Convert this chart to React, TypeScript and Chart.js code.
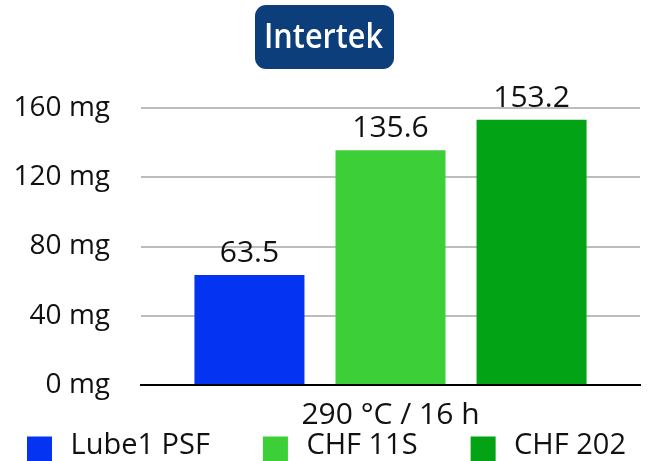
import React, { useEffect, useRef } from 'react';
import { Chart, registerables } from 'chart.js';

Chart.register(...registerables);

// ---- data ----
const categories = ['290 °C / 16 h'];
const seriesNames = ['Lube1 PSF', 'CHF 11S', 'CHF 202'];
const lube1PsfValues = [63.5];
const chf11sValues = [135.6];
const chf202Values = [153.2];
const yTickValues = [0, 40, 80, 120, 160];
const yUnit = 'mg';
const logoText = 'Intertek';

// ---- styles ----
const COLORS = ['#0533f2', '#3dcf37', '#02a314'];
const FONT = "'Open Sans', 'Noto Sans', sans-serif";
const TEXT = '#111111';
const LEGEND_FONT = 29;
const LEGEND_W = 82; // legend item box slot width
const SWATCH = 25;
const SWATCH_GAP = 19;

function makeSwatch(color: string): HTMLCanvasElement {
  const c = document.createElement('canvas');
  c.width = LEGEND_W;
  c.height = 32;
  const g = c.getContext('2d')!;
  g.fillStyle = color;
  const right = LEGEND_W + LEGEND_FONT / 2 - SWATCH_GAP;
  g.fillRect(Math.round(right - SWATCH), 7, SWATCH, SWATCH);
  return c;
}

const logoPlugin = {
  id: 'logo',
  beforeDraw(chart: any) {
    const { ctx } = chart;
    ctx.save();
    ctx.fillStyle = '#0d3e7c';
    ctx.beginPath();
    if (ctx.roundRect) ctx.roundRect(255, 5, 139, 64, 11);
    else ctx.rect(255, 5, 139, 64);
    ctx.fill();
    ctx.font = `600 35px ${FONT}`;
    const w = ctx.measureText(logoText).width;
    ctx.translate(323.5, 48);
    ctx.scale(119 / w, 1);
    ctx.fillStyle = '#ffffff';
    ctx.textAlign = 'center';
    ctx.textBaseline = 'alphabetic';
    ctx.fillText(logoText, 0, 0);
    ctx.restore();
  },
};

const valueLabelPlugin = {
  id: 'valueLabels',
  afterDatasetsDraw(chart: any) {
    const { ctx } = chart;
    ctx.save();
    ctx.font = `30px ${FONT}`;
    ctx.fillStyle = TEXT;
    ctx.textAlign = 'center';
    ctx.textBaseline = 'alphabetic';
    chart.data.datasets.forEach((ds: any, i: number) => {
      const meta = chart.getDatasetMeta(i);
      meta.data.forEach((bar: any, j: number) => {
        const v = ds.data[j];
        ctx.fillText(Number(v).toFixed(1), bar.x, bar.y - 13);
      });
    });
    ctx.restore();
  },
};

export default function App() {
  const ref = useRef<HTMLCanvasElement | null>(null);

  useEffect(() => {
    document.body.style.margin = '0';
    const canvas = ref.current;
    if (!canvas) return;
    const seriesValues = [lube1PsfValues, chf11sValues, chf202Values];
    const swatches = COLORS.map(makeSwatch);

    const chart = new Chart(canvas, {
      type: 'bar',
      data: {
        labels: categories,
        datasets: seriesNames.map((name, i) => ({
          label: name,
          data: seriesValues[i],
          backgroundColor: COLORS[i],
          borderWidth: 0,
          categoryPercentage: 0.848,
          barPercentage: 0.78,
        })),
      },
      options: {
        animation: false,
        responsive: false,
        maintainAspectRatio: false,
        layout: { padding: { top: 108, left: -26, right: 7, bottom: -9 } },
        scales: {
          x: {
            type: 'category',
            grid: { display: false },
            border: { display: true, color: '#000000', width: 2, z: 1 },
            ticks: { font: { family: FONT, size: 30 }, color: TEXT, padding: 4 },
            afterFit: (s: any) => { s.height = 46; },
          },
          y: {
            min: 0,
            max: 160,
            afterBuildTicks: (s: any) => { s.ticks = yTickValues.map((v) => ({ value: v })); },
            grid: {
              color: (c: any) => (c.tick && c.tick.value === 0 ? '#000000' : '#bdbdbd'),
              lineWidth: 2,
              drawTicks: false,
            },
            border: { display: false },
            ticks: {
              font: { family: FONT, size: 28 },
              color: TEXT,
              padding: 31,
              callback: (v: any) => `${v} ${yUnit}`,
            },
            afterFit: (s: any) => { s.width = 167; },
          },
        },
        plugins: {
          legend: {
            position: 'bottom',
            align: 'start',
            labels: {
              usePointStyle: true,
              pointStyleWidth: LEGEND_W,
              padding: 0,
              font: { family: FONT, size: LEGEND_FONT },
              color: TEXT,
              generateLabels: (ch: any) =>
                ch.data.datasets.map((ds: any, i: number) => ({
                  text: ds.label,
                  fillStyle: ds.backgroundColor,
                  strokeStyle: ds.backgroundColor,
                  lineWidth: 0,
                  pointStyle: swatches[i],
                  hidden: !ch.isDatasetVisible(i),
                  datasetIndex: i,
                  fontColor: TEXT,
                })),
            },
          },
          tooltip: { enabled: false },
          title: { display: false },
        },
      } as any,
      plugins: [logoPlugin, valueLabelPlugin],
    });
    return () => chart.destroy();
  }, []);

  return (
    <div style={{ width: 647, height: 461, position: 'relative', overflow: 'hidden' }}>
      <canvas ref={ref} width={647} height={461} style={{ display: 'block' }} />
    </div>
  );
}
